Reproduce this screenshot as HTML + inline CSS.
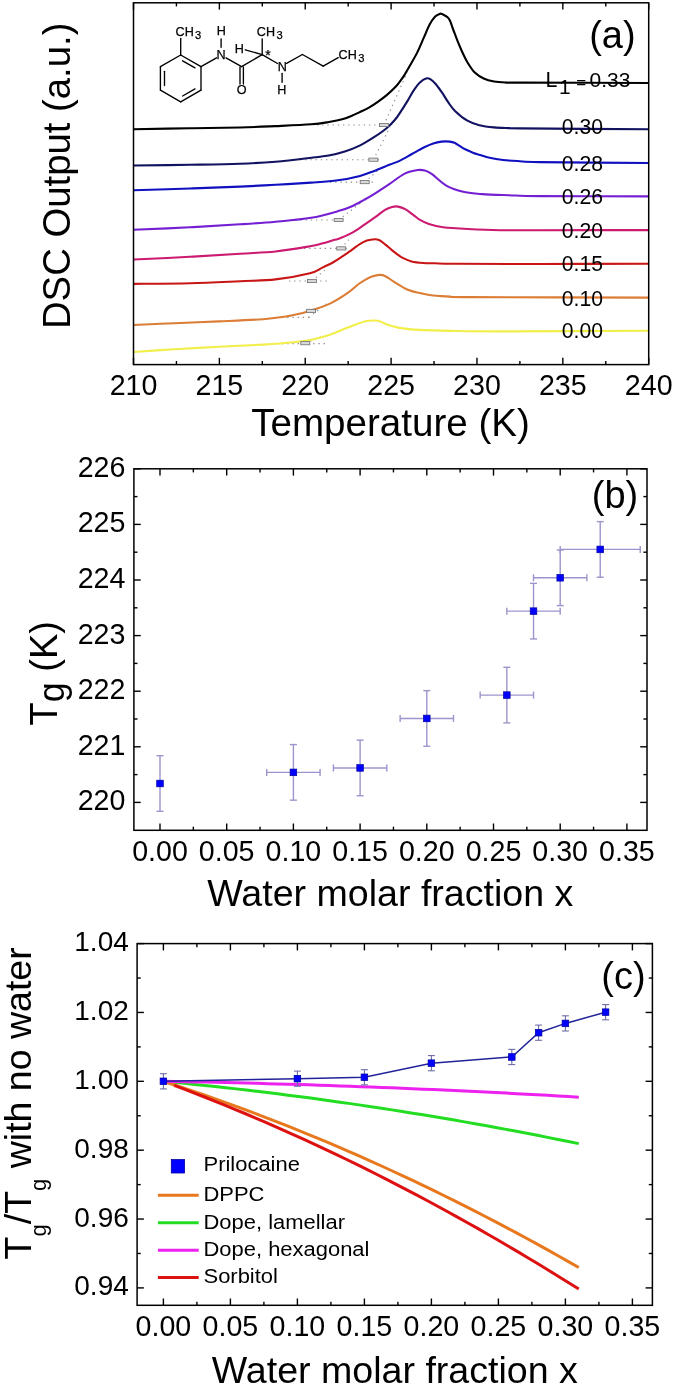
<!DOCTYPE html><html><head><meta charset="utf-8"><title>DSC and Tg figure</title>
<style>html,body{margin:0;padding:0;background:#fff;}svg{display:block;}text{font-family:"Liberation Sans", Arial, Helvetica, sans-serif;fill:#000;}</style></head><body>
<svg width="675" height="1387" viewBox="0 0 675 1387">
<rect x="0" y="0" width="675" height="1387" fill="#fff"/>
<g stroke="#8a8a8a" stroke-width="1.1" stroke-dasharray="1.3,3.9" fill="none">
<line x1="317.0" y1="125.0" x2="389.0" y2="125.0"/>
<line x1="300.0" y1="159.7" x2="379.0" y2="159.7"/>
<line x1="330.0" y1="182.1" x2="376.0" y2="182.1"/>
<line x1="290.0" y1="220.0" x2="344.0" y2="220.0"/>
<line x1="304.0" y1="248.4" x2="350.0" y2="248.4"/>
<line x1="289.0" y1="281.0" x2="328.0" y2="281.0"/>
<line x1="282.0" y1="317.4" x2="309.0" y2="317.4"/>
<line x1="282.0" y1="343.6" x2="326.0" y2="343.6"/>
<line x1="383.9" y1="125.0" x2="407.1" y2="72.4"/>
<line x1="373.4" y1="159.7" x2="390.0" y2="127.0"/>
<line x1="364.7" y1="182.1" x2="379.0" y2="169.5"/>
<line x1="338.6" y1="220.0" x2="362.0" y2="202.0"/>
<line x1="341.2" y1="248.4" x2="351.0" y2="237.0"/>
<line x1="311.9" y1="281.0" x2="326.0" y2="269.0"/>
<line x1="309.0" y1="317.4" x2="326.0" y2="304.0"/>
<line x1="305.3" y1="343.2" x2="322.0" y2="336.5"/>
</g>
<path d="M133.50,129.20 C142.92,129.05 172.25,128.58 190.00,128.30 C207.75,128.02 225.73,127.87 240.00,127.50 C254.27,127.13 263.75,126.63 275.60,126.10 C287.45,125.57 302.22,124.98 311.10,124.30 C319.98,123.62 323.57,122.88 328.90,122.00 C334.23,121.12 338.95,120.18 343.10,119.00 C347.25,117.82 350.98,116.07 353.80,114.90 C356.62,113.73 357.48,113.22 360.00,112.00 C362.52,110.78 365.93,109.30 368.90,107.60 C371.87,105.90 374.83,103.88 377.80,101.80 C380.77,99.72 383.73,97.62 386.70,95.10 C389.67,92.58 393.38,89.00 395.60,86.70 C397.82,84.40 398.53,83.23 400.00,81.30 C401.47,79.37 402.68,77.82 404.40,75.10 C406.12,72.38 408.13,68.83 410.30,65.00 C412.47,61.17 415.17,56.62 417.40,52.10 C419.63,47.58 421.62,42.57 423.70,37.90 C425.78,33.23 427.98,27.65 429.90,24.10 C431.82,20.55 433.57,18.30 435.20,16.60 C436.83,14.90 438.52,14.32 439.70,13.90 C440.88,13.48 440.75,13.28 442.30,14.10 C443.85,14.92 447.22,16.32 449.00,18.80 C450.78,21.28 451.60,25.37 453.00,29.00 C454.40,32.63 455.92,36.90 457.40,40.60 C458.88,44.30 460.23,47.60 461.90,51.20 C463.57,54.80 465.25,58.63 467.40,62.20 C469.55,65.77 472.08,69.88 474.80,72.60 C477.52,75.32 480.48,77.02 483.70,78.50 C486.92,79.98 490.40,80.83 494.10,81.50 C497.80,82.17 501.58,82.32 505.90,82.50 C510.22,82.68 496.20,82.52 520.00,82.60 C543.80,82.68 627.25,82.93 648.70,83.00" fill="none" stroke="#000000" stroke-width="2.1" stroke-linejoin="round"/>
<path d="M133.50,165.50 C142.92,165.38 172.25,165.08 190.00,164.80 C207.75,164.52 225.73,164.32 240.00,163.80 C254.27,163.28 263.75,162.70 275.60,161.70 C287.45,160.70 302.03,158.88 311.10,157.80 C320.17,156.72 324.38,156.25 330.00,155.20 C335.62,154.15 339.87,153.10 344.80,151.50 C349.73,149.90 354.67,148.03 359.60,145.60 C364.53,143.17 369.95,139.75 374.40,136.90 C378.85,134.05 382.87,131.35 386.30,128.50 C389.73,125.65 392.52,122.73 395.00,119.80 C397.48,116.87 399.13,114.02 401.20,110.90 C403.27,107.78 405.32,104.52 407.40,101.10 C409.48,97.68 411.62,93.52 413.70,90.40 C415.78,87.28 417.83,84.40 419.90,82.40 C421.97,80.40 424.32,78.92 426.10,78.40 C427.88,77.88 428.97,78.33 430.60,79.30 C432.23,80.27 433.98,81.97 435.90,84.20 C437.82,86.43 440.03,89.67 442.10,92.70 C444.17,95.73 446.15,99.37 448.30,102.40 C450.45,105.43 451.82,107.85 455.00,110.90 C458.18,113.95 463.35,118.32 467.40,120.70 C471.45,123.08 474.85,124.08 479.30,125.20 C483.75,126.32 489.17,126.92 494.10,127.40 C499.03,127.88 504.58,127.93 508.90,128.10 C513.22,128.27 496.70,128.20 520.00,128.40 C543.30,128.60 627.25,129.15 648.70,129.30" fill="none" stroke="#121260" stroke-width="2.1" stroke-linejoin="round"/>
<path d="M133.50,190.30 C142.92,190.00 172.25,189.12 190.00,188.50 C207.75,187.88 225.73,187.22 240.00,186.60 C254.27,185.98 263.75,185.47 275.60,184.80 C287.45,184.13 300.73,183.35 311.10,182.60 C321.47,181.85 329.65,181.42 337.80,180.30 C345.95,179.18 353.90,177.47 360.00,175.90 C366.10,174.33 369.52,172.75 374.40,170.90 C379.28,169.05 385.03,166.52 389.30,164.80 C393.57,163.08 396.23,162.40 400.00,160.60 C403.77,158.80 407.95,156.18 411.90,154.00 C415.85,151.82 420.15,149.27 423.70,147.50 C427.25,145.73 430.23,144.38 433.20,143.40 C436.17,142.42 438.73,141.90 441.50,141.60 C444.27,141.30 447.63,141.40 449.80,141.60 C451.97,141.80 452.92,142.12 454.50,142.80 C456.08,143.48 457.52,144.62 459.30,145.70 C461.08,146.78 462.83,148.10 465.20,149.30 C467.57,150.50 471.03,151.97 473.50,152.90 C475.97,153.83 477.32,154.08 480.00,154.90 C482.68,155.72 485.77,156.95 489.60,157.80 C493.43,158.65 497.93,159.43 503.00,160.00 C508.07,160.57 513.83,160.85 520.00,161.20 C526.17,161.55 518.55,161.80 540.00,162.10 C561.45,162.40 630.58,162.85 648.70,163.00" fill="none" stroke="#1010c0" stroke-width="2.1" stroke-linejoin="round"/>
<path d="M133.50,229.80 C142.92,229.38 172.25,228.22 190.00,227.30 C207.75,226.38 225.73,225.23 240.00,224.30 C254.27,223.37 263.75,222.78 275.60,221.70 C287.45,220.62 300.37,219.65 311.10,217.80 C321.83,215.95 333.20,212.52 340.00,210.60 C346.80,208.68 347.95,208.05 351.90,206.30 C355.85,204.55 360.15,202.05 363.70,200.10 C367.25,198.15 368.93,197.27 373.20,194.60 C377.47,191.93 384.05,187.60 389.30,184.10 C394.55,180.60 399.95,175.95 404.70,173.60 C409.45,171.25 414.43,170.50 417.80,170.00 C421.17,169.50 422.53,169.90 424.90,170.60 C427.27,171.30 428.37,171.67 432.00,174.20 C435.63,176.73 441.30,182.83 446.70,185.80 C452.10,188.77 458.48,190.62 464.40,192.00 C470.32,193.38 474.78,193.57 482.20,194.10 C489.62,194.63 499.27,194.87 508.90,195.20 C518.53,195.53 516.70,195.90 540.00,196.10 C563.30,196.30 630.58,196.35 648.70,196.40" fill="none" stroke="#7420d2" stroke-width="2.1" stroke-linejoin="round"/>
<path d="M133.50,259.50 C142.92,259.05 172.25,257.77 190.00,256.80 C207.75,255.83 225.73,254.58 240.00,253.70 C254.27,252.82 263.93,252.73 275.60,251.50 C287.27,250.27 302.28,247.62 310.00,246.30 C317.72,244.98 317.95,244.63 321.90,243.60 C325.85,242.57 330.68,240.98 333.70,240.10 C336.72,239.22 336.97,239.50 340.00,238.30 C343.03,237.10 347.95,235.08 351.90,232.90 C355.85,230.72 359.75,227.87 363.70,225.20 C367.65,222.53 372.05,219.47 375.60,216.90 C379.15,214.33 382.25,211.47 385.00,209.80 C387.75,208.13 389.92,207.43 392.10,206.90 C394.28,206.37 395.92,206.22 398.10,206.60 C400.28,206.98 402.63,207.78 405.20,209.20 C407.77,210.62 411.03,213.32 413.50,215.10 C415.97,216.88 417.43,218.42 420.00,219.90 C422.57,221.38 425.05,222.78 428.90,224.00 C432.75,225.22 436.58,226.37 443.10,227.20 C449.62,228.03 458.52,228.50 468.00,229.00 C477.48,229.50 488.00,230.00 500.00,230.20 C512.00,230.40 515.22,230.22 540.00,230.20 C564.78,230.18 630.58,230.12 648.70,230.10" fill="none" stroke="#cc1a70" stroke-width="2.1" stroke-linejoin="round"/>
<path d="M133.50,283.90 C142.92,283.80 172.25,283.75 190.00,283.30 C207.75,282.85 225.73,281.85 240.00,281.20 C254.27,280.55 263.93,280.73 275.60,279.40 C287.27,278.07 302.28,275.12 310.00,273.20 C317.72,271.28 317.95,269.77 321.90,267.90 C325.85,266.03 330.35,263.87 333.70,262.00 C337.05,260.13 339.03,258.68 342.00,256.70 C344.97,254.72 348.53,252.18 351.50,250.10 C354.47,248.02 357.23,245.78 359.80,244.20 C362.37,242.62 364.42,241.43 366.90,240.60 C369.38,239.77 372.60,239.27 374.70,239.20 C376.80,239.13 377.72,239.30 379.50,240.20 C381.28,241.10 383.43,243.03 385.40,244.60 C387.37,246.17 389.32,247.98 391.30,249.60 C393.28,251.22 395.32,252.88 397.30,254.30 C399.28,255.72 400.83,256.92 403.20,258.10 C405.57,259.28 408.15,260.58 411.50,261.40 C414.85,262.22 419.35,262.68 423.30,263.00 C427.25,263.32 429.82,263.17 435.20,263.30 C440.58,263.43 438.13,263.68 455.60,263.80 C473.07,263.92 507.82,264.02 540.00,264.00 C572.18,263.98 630.58,263.75 648.70,263.70" fill="none" stroke="#c81616" stroke-width="2.1" stroke-linejoin="round"/>
<path d="M133.50,325.00 C140.32,324.70 160.17,323.80 174.40,323.20 C188.63,322.60 204.08,322.07 218.90,321.40 C233.72,320.73 251.95,320.03 263.30,319.20 C274.65,318.37 280.55,317.40 287.00,316.40 C293.45,315.40 297.55,314.33 302.00,313.20 C306.45,312.07 309.03,311.20 313.70,309.60 C318.37,308.00 324.32,306.38 330.00,303.60 C335.68,300.82 343.13,296.08 347.80,292.90 C352.47,289.72 355.03,286.72 358.00,284.50 C360.97,282.28 363.27,280.92 365.60,279.60 C367.93,278.28 369.68,277.38 372.00,276.60 C374.32,275.82 377.27,274.97 379.50,274.90 C381.73,274.83 383.03,275.08 385.40,276.20 C387.77,277.32 390.33,279.52 393.70,281.60 C397.07,283.68 401.65,286.87 405.60,288.70 C409.55,290.53 413.45,291.55 417.40,292.60 C421.35,293.65 425.35,294.42 429.30,295.00 C433.25,295.58 437.65,295.83 441.10,296.10 C444.55,296.37 445.18,296.43 450.00,296.60 C454.82,296.77 436.88,296.93 470.00,297.10 C503.12,297.27 618.92,297.52 648.70,297.60" fill="none" stroke="#dc7d36" stroke-width="2.1" stroke-linejoin="round"/>
<path d="M133.50,352.00 C140.32,351.53 160.17,350.07 174.40,349.20 C188.63,348.33 204.08,347.57 218.90,346.80 C233.72,346.03 250.95,345.35 263.30,344.60 C275.65,343.85 284.60,343.20 293.00,342.30 C301.40,341.40 307.53,340.45 313.70,339.20 C319.87,337.95 324.32,336.73 330.00,334.80 C335.68,332.87 341.87,329.85 347.80,327.60 C353.73,325.35 360.57,322.43 365.60,321.30 C370.63,320.17 374.45,320.28 378.00,320.80 C381.55,321.32 383.05,323.18 386.90,324.40 C390.75,325.62 395.77,327.18 401.10,328.10 C406.43,329.02 410.75,329.43 418.90,329.90 C427.05,330.37 436.48,330.65 450.00,330.90 C463.52,331.15 466.88,331.42 500.00,331.40 C533.12,331.38 623.92,330.90 648.70,330.80" fill="none" stroke="#f2ee4a" stroke-width="2.1" stroke-linejoin="round"/>
<rect x="379.4" y="123.4" width="9" height="3.2" fill="#d8d8d8" stroke="#707070" stroke-width="0.8"/>
<rect x="368.9" y="158.1" width="9" height="3.2" fill="#d8d8d8" stroke="#707070" stroke-width="0.8"/>
<rect x="360.2" y="180.5" width="9" height="3.2" fill="#d8d8d8" stroke="#707070" stroke-width="0.8"/>
<rect x="334.1" y="218.4" width="9" height="3.2" fill="#d8d8d8" stroke="#707070" stroke-width="0.8"/>
<rect x="336.7" y="246.8" width="9" height="3.2" fill="#d8d8d8" stroke="#707070" stroke-width="0.8"/>
<rect x="307.4" y="279.4" width="9" height="3.2" fill="#d8d8d8" stroke="#707070" stroke-width="0.8"/>
<rect x="306.6" y="309.3" width="9" height="3.2" fill="#d8d8d8" stroke="#707070" stroke-width="0.8"/>
<rect x="300.8" y="341.6" width="9" height="3.2" fill="#d8d8d8" stroke="#707070" stroke-width="0.8"/>
<rect x="133.50" y="2.80" width="515.20" height="361.80" fill="none" stroke="#000" stroke-width="1.50"/>
<line x1="133.50" y1="364.60" x2="133.50" y2="357.80" stroke="#000" stroke-width="1.40" />
<line x1="133.50" y1="2.80" x2="133.50" y2="9.60" stroke="#000" stroke-width="1.40" />
<text x="133.50" y="395.10" font-size="28.60" text-anchor="middle" >210</text>
<line x1="176.43" y1="364.60" x2="176.43" y2="361.00" stroke="#000" stroke-width="1.40" />
<line x1="176.43" y1="2.80" x2="176.43" y2="6.40" stroke="#000" stroke-width="1.40" />
<line x1="219.37" y1="364.60" x2="219.37" y2="357.80" stroke="#000" stroke-width="1.40" />
<line x1="219.37" y1="2.80" x2="219.37" y2="9.60" stroke="#000" stroke-width="1.40" />
<text x="219.37" y="395.10" font-size="28.60" text-anchor="middle" >215</text>
<line x1="262.30" y1="364.60" x2="262.30" y2="361.00" stroke="#000" stroke-width="1.40" />
<line x1="262.30" y1="2.80" x2="262.30" y2="6.40" stroke="#000" stroke-width="1.40" />
<line x1="305.23" y1="364.60" x2="305.23" y2="357.80" stroke="#000" stroke-width="1.40" />
<line x1="305.23" y1="2.80" x2="305.23" y2="9.60" stroke="#000" stroke-width="1.40" />
<text x="305.23" y="395.10" font-size="28.60" text-anchor="middle" >220</text>
<line x1="348.17" y1="364.60" x2="348.17" y2="361.00" stroke="#000" stroke-width="1.40" />
<line x1="348.17" y1="2.80" x2="348.17" y2="6.40" stroke="#000" stroke-width="1.40" />
<line x1="391.10" y1="364.60" x2="391.10" y2="357.80" stroke="#000" stroke-width="1.40" />
<line x1="391.10" y1="2.80" x2="391.10" y2="9.60" stroke="#000" stroke-width="1.40" />
<text x="391.10" y="395.10" font-size="28.60" text-anchor="middle" >225</text>
<line x1="434.03" y1="364.60" x2="434.03" y2="361.00" stroke="#000" stroke-width="1.40" />
<line x1="434.03" y1="2.80" x2="434.03" y2="6.40" stroke="#000" stroke-width="1.40" />
<line x1="476.97" y1="364.60" x2="476.97" y2="357.80" stroke="#000" stroke-width="1.40" />
<line x1="476.97" y1="2.80" x2="476.97" y2="9.60" stroke="#000" stroke-width="1.40" />
<text x="476.97" y="395.10" font-size="28.60" text-anchor="middle" >230</text>
<line x1="519.90" y1="364.60" x2="519.90" y2="361.00" stroke="#000" stroke-width="1.40" />
<line x1="519.90" y1="2.80" x2="519.90" y2="6.40" stroke="#000" stroke-width="1.40" />
<line x1="562.83" y1="364.60" x2="562.83" y2="357.80" stroke="#000" stroke-width="1.40" />
<line x1="562.83" y1="2.80" x2="562.83" y2="9.60" stroke="#000" stroke-width="1.40" />
<text x="562.83" y="395.10" font-size="28.60" text-anchor="middle" >235</text>
<line x1="605.77" y1="364.60" x2="605.77" y2="361.00" stroke="#000" stroke-width="1.40" />
<line x1="605.77" y1="2.80" x2="605.77" y2="6.40" stroke="#000" stroke-width="1.40" />
<line x1="648.70" y1="364.60" x2="648.70" y2="357.80" stroke="#000" stroke-width="1.40" />
<line x1="648.70" y1="2.80" x2="648.70" y2="9.60" stroke="#000" stroke-width="1.40" />
<text x="648.70" y="395.10" font-size="28.60" text-anchor="middle" >240</text>
<text x="390.50" y="435.70" font-size="38.60" text-anchor="middle" >Temperature (K)</text>
<text transform="translate(70,175.8) rotate(-90)" x="0" y="0" font-size="38.3" text-anchor="middle">DSC Output (a.u.)</text>
<text x="612.40" y="47.50" font-size="38.00" text-anchor="middle" >(a)</text>
<text x="561.8" y="134.20" font-size="22" textLength="41.2" lengthAdjust="spacingAndGlyphs">0.30</text>
<text x="561.8" y="170.90" font-size="22" textLength="41.2" lengthAdjust="spacingAndGlyphs">0.28</text>
<text x="561.8" y="203.60" font-size="22" textLength="41.2" lengthAdjust="spacingAndGlyphs">0.26</text>
<text x="561.8" y="238.00" font-size="22" textLength="41.2" lengthAdjust="spacingAndGlyphs">0.20</text>
<text x="561.8" y="270.70" font-size="22" textLength="41.2" lengthAdjust="spacingAndGlyphs">0.15</text>
<text x="561.8" y="305.80" font-size="22" textLength="41.2" lengthAdjust="spacingAndGlyphs">0.10</text>
<text x="561.8" y="337.80" font-size="22" textLength="41.2" lengthAdjust="spacingAndGlyphs">0.00</text>
<text x="545.6" y="87.2" font-size="21.4">L</text>
<text x="559.0" y="94.0" font-size="21">1</text>
<text x="576.3" y="87.6" font-size="17">=</text>
<text x="589.6" y="86.9" font-size="20.5" textLength="40.8" lengthAdjust="spacingAndGlyphs">0.33</text>
<g stroke="#000" stroke-width="1.35" stroke-linecap="round" fill="none"><line x1="180.7" y1="55.0" x2="201.0" y2="66.7"/><line x1="201.0" y1="66.7" x2="201.0" y2="90.1"/><line x1="201.0" y1="90.1" x2="180.7" y2="101.8"/><line x1="180.7" y1="101.8" x2="160.4" y2="90.1"/><line x1="160.4" y1="90.1" x2="160.4" y2="66.7"/><line x1="160.4" y1="66.7" x2="180.7" y2="55.0"/><line x1="182.6" y1="60.8" x2="195.0" y2="67.9"/><line x1="195.0" y1="88.9" x2="182.6" y2="96.0"/><line x1="164.5" y1="85.5" x2="164.5" y2="71.3"/><line x1="180.7" y1="55.0" x2="180.7" y2="38.3"/><line x1="201.0" y1="66.7" x2="216.5" y2="57.8"/><line x1="221.1" y1="47.2" x2="221.1" y2="38.8"/><line x1="226.0" y1="57.8" x2="241.6" y2="66.6"/><line x1="240.0" y1="67.0" x2="240.0" y2="84.0"/><line x1="243.4" y1="67.0" x2="243.4" y2="84.0"/><line x1="241.6" y1="66.6" x2="262.2" y2="54.6"/><line x1="245.3" y1="49.8" x2="262.2" y2="54.6"/><line x1="262.2" y1="54.6" x2="262.2" y2="38.8"/><line x1="262.2" y1="54.6" x2="277.5" y2="63.5"/><line x1="282.1" y1="73.3" x2="282.1" y2="82.3"/><line x1="286.6" y1="63.4" x2="302.4" y2="54.5"/><line x1="302.4" y1="54.5" x2="323.2" y2="66.1"/><line x1="323.2" y1="66.1" x2="338.2" y2="57.6"/></g>
<text x="175.6" y="35.6" font-size="12.6" text-anchor="start" stroke="#000" stroke-width="0.25">CH</text>
<text x="195.0" y="39.0" font-size="11.2" text-anchor="start" stroke="#000" stroke-width="0.25">3</text>
<text x="221.3" y="35.4" font-size="12.6" text-anchor="middle" stroke="#000" stroke-width="0.25">H</text>
<text x="221.1" y="58.8" font-size="12.6" text-anchor="middle" stroke="#000" stroke-width="0.25">N</text>
<text x="241.6" y="94.1" font-size="12.6" text-anchor="middle" stroke="#000" stroke-width="0.25">O</text>
<text x="239.2" y="53.4" font-size="12.6" text-anchor="middle" stroke="#000" stroke-width="0.25">H</text>
<text x="265.3" y="59.6" font-size="14.0" text-anchor="start" stroke="#000" stroke-width="0.25">*</text>
<text x="256.8" y="35.7" font-size="12.6" text-anchor="start" stroke="#000" stroke-width="0.25">CH</text>
<text x="276.4" y="39.0" font-size="11.2" text-anchor="start" stroke="#000" stroke-width="0.25">3</text>
<text x="282.3" y="71.0" font-size="12.6" text-anchor="middle" stroke="#000" stroke-width="0.25">N</text>
<text x="281.9" y="93.8" font-size="12.6" text-anchor="middle" stroke="#000" stroke-width="0.25">H</text>
<text x="338.6" y="59.0" font-size="12.6" text-anchor="start" stroke="#000" stroke-width="0.25">CH</text>
<text x="358.2" y="62.4" font-size="11.2" text-anchor="start" stroke="#000" stroke-width="0.25">3</text>
<rect x="133.90" y="468.80" width="513.10" height="361.50" fill="none" stroke="#000" stroke-width="1.50"/>
<line x1="160.00" y1="830.30" x2="160.00" y2="823.50" stroke="#000" stroke-width="1.40" />
<line x1="160.00" y1="468.80" x2="160.00" y2="475.60" stroke="#000" stroke-width="1.40" />
<text x="160.00" y="860.80" font-size="28.60" text-anchor="middle" >0.00</text>
<line x1="193.35" y1="830.30" x2="193.35" y2="826.70" stroke="#000" stroke-width="1.40" />
<line x1="193.35" y1="468.80" x2="193.35" y2="472.40" stroke="#000" stroke-width="1.40" />
<line x1="226.70" y1="830.30" x2="226.70" y2="823.50" stroke="#000" stroke-width="1.40" />
<line x1="226.70" y1="468.80" x2="226.70" y2="475.60" stroke="#000" stroke-width="1.40" />
<text x="226.70" y="860.80" font-size="28.60" text-anchor="middle" >0.05</text>
<line x1="260.05" y1="830.30" x2="260.05" y2="826.70" stroke="#000" stroke-width="1.40" />
<line x1="260.05" y1="468.80" x2="260.05" y2="472.40" stroke="#000" stroke-width="1.40" />
<line x1="293.40" y1="830.30" x2="293.40" y2="823.50" stroke="#000" stroke-width="1.40" />
<line x1="293.40" y1="468.80" x2="293.40" y2="475.60" stroke="#000" stroke-width="1.40" />
<text x="293.40" y="860.80" font-size="28.60" text-anchor="middle" >0.10</text>
<line x1="326.75" y1="830.30" x2="326.75" y2="826.70" stroke="#000" stroke-width="1.40" />
<line x1="326.75" y1="468.80" x2="326.75" y2="472.40" stroke="#000" stroke-width="1.40" />
<line x1="360.10" y1="830.30" x2="360.10" y2="823.50" stroke="#000" stroke-width="1.40" />
<line x1="360.10" y1="468.80" x2="360.10" y2="475.60" stroke="#000" stroke-width="1.40" />
<text x="360.10" y="860.80" font-size="28.60" text-anchor="middle" >0.15</text>
<line x1="393.45" y1="830.30" x2="393.45" y2="826.70" stroke="#000" stroke-width="1.40" />
<line x1="393.45" y1="468.80" x2="393.45" y2="472.40" stroke="#000" stroke-width="1.40" />
<line x1="426.80" y1="830.30" x2="426.80" y2="823.50" stroke="#000" stroke-width="1.40" />
<line x1="426.80" y1="468.80" x2="426.80" y2="475.60" stroke="#000" stroke-width="1.40" />
<text x="426.80" y="860.80" font-size="28.60" text-anchor="middle" >0.20</text>
<line x1="460.15" y1="830.30" x2="460.15" y2="826.70" stroke="#000" stroke-width="1.40" />
<line x1="460.15" y1="468.80" x2="460.15" y2="472.40" stroke="#000" stroke-width="1.40" />
<line x1="493.50" y1="830.30" x2="493.50" y2="823.50" stroke="#000" stroke-width="1.40" />
<line x1="493.50" y1="468.80" x2="493.50" y2="475.60" stroke="#000" stroke-width="1.40" />
<text x="493.50" y="860.80" font-size="28.60" text-anchor="middle" >0.25</text>
<line x1="526.85" y1="830.30" x2="526.85" y2="826.70" stroke="#000" stroke-width="1.40" />
<line x1="526.85" y1="468.80" x2="526.85" y2="472.40" stroke="#000" stroke-width="1.40" />
<line x1="560.20" y1="830.30" x2="560.20" y2="823.50" stroke="#000" stroke-width="1.40" />
<line x1="560.20" y1="468.80" x2="560.20" y2="475.60" stroke="#000" stroke-width="1.40" />
<text x="560.20" y="860.80" font-size="28.60" text-anchor="middle" >0.30</text>
<line x1="593.55" y1="830.30" x2="593.55" y2="826.70" stroke="#000" stroke-width="1.40" />
<line x1="593.55" y1="468.80" x2="593.55" y2="472.40" stroke="#000" stroke-width="1.40" />
<line x1="626.90" y1="830.30" x2="626.90" y2="823.50" stroke="#000" stroke-width="1.40" />
<line x1="626.90" y1="468.80" x2="626.90" y2="475.60" stroke="#000" stroke-width="1.40" />
<text x="626.90" y="860.80" font-size="28.60" text-anchor="middle" >0.35</text>
<line x1="133.90" y1="802.40" x2="140.70" y2="802.40" stroke="#000" stroke-width="1.40" />
<line x1="647.00" y1="802.40" x2="640.20" y2="802.40" stroke="#000" stroke-width="1.40" />
<text x="125.40" y="810.40" font-size="28.60" text-anchor="end" >220</text>
<line x1="133.90" y1="774.60" x2="137.50" y2="774.60" stroke="#000" stroke-width="1.40" />
<line x1="647.00" y1="774.60" x2="643.40" y2="774.60" stroke="#000" stroke-width="1.40" />
<line x1="133.90" y1="746.80" x2="140.70" y2="746.80" stroke="#000" stroke-width="1.40" />
<line x1="647.00" y1="746.80" x2="640.20" y2="746.80" stroke="#000" stroke-width="1.40" />
<text x="125.40" y="754.80" font-size="28.60" text-anchor="end" >221</text>
<line x1="133.90" y1="719.00" x2="137.50" y2="719.00" stroke="#000" stroke-width="1.40" />
<line x1="647.00" y1="719.00" x2="643.40" y2="719.00" stroke="#000" stroke-width="1.40" />
<line x1="133.90" y1="691.20" x2="140.70" y2="691.20" stroke="#000" stroke-width="1.40" />
<line x1="647.00" y1="691.20" x2="640.20" y2="691.20" stroke="#000" stroke-width="1.40" />
<text x="125.40" y="699.20" font-size="28.60" text-anchor="end" >222</text>
<line x1="133.90" y1="663.40" x2="137.50" y2="663.40" stroke="#000" stroke-width="1.40" />
<line x1="647.00" y1="663.40" x2="643.40" y2="663.40" stroke="#000" stroke-width="1.40" />
<line x1="133.90" y1="635.60" x2="140.70" y2="635.60" stroke="#000" stroke-width="1.40" />
<line x1="647.00" y1="635.60" x2="640.20" y2="635.60" stroke="#000" stroke-width="1.40" />
<text x="125.40" y="643.60" font-size="28.60" text-anchor="end" >223</text>
<line x1="133.90" y1="607.80" x2="137.50" y2="607.80" stroke="#000" stroke-width="1.40" />
<line x1="647.00" y1="607.80" x2="643.40" y2="607.80" stroke="#000" stroke-width="1.40" />
<line x1="133.90" y1="580.00" x2="140.70" y2="580.00" stroke="#000" stroke-width="1.40" />
<line x1="647.00" y1="580.00" x2="640.20" y2="580.00" stroke="#000" stroke-width="1.40" />
<text x="125.40" y="588.00" font-size="28.60" text-anchor="end" >224</text>
<line x1="133.90" y1="552.20" x2="137.50" y2="552.20" stroke="#000" stroke-width="1.40" />
<line x1="647.00" y1="552.20" x2="643.40" y2="552.20" stroke="#000" stroke-width="1.40" />
<line x1="133.90" y1="524.40" x2="140.70" y2="524.40" stroke="#000" stroke-width="1.40" />
<line x1="647.00" y1="524.40" x2="640.20" y2="524.40" stroke="#000" stroke-width="1.40" />
<text x="125.40" y="532.40" font-size="28.60" text-anchor="end" >225</text>
<line x1="133.90" y1="496.60" x2="137.50" y2="496.60" stroke="#000" stroke-width="1.40" />
<line x1="647.00" y1="496.60" x2="643.40" y2="496.60" stroke="#000" stroke-width="1.40" />
<line x1="133.90" y1="468.80" x2="140.70" y2="468.80" stroke="#000" stroke-width="1.40" />
<line x1="647.00" y1="468.80" x2="640.20" y2="468.80" stroke="#000" stroke-width="1.40" />
<text x="125.40" y="476.80" font-size="28.60" text-anchor="end" >226</text>
<text x="390.30" y="905.50" font-size="37.60" text-anchor="middle" >Water molar fraction x</text>
<text transform="translate(57.1,673.3) rotate(-90)" x="0" y="0" font-size="38" text-anchor="middle">T<tspan font-size="36" dy="7">g</tspan><tspan dy="-7"> (K)</tspan></text>
<text x="615.00" y="508.00" font-size="38.00" text-anchor="middle" >(b)</text>
<line x1="160.00" y1="755.70" x2="160.00" y2="811.30" stroke="#9c94cc" stroke-width="1.40" />
<line x1="156.50" y1="755.70" x2="163.50" y2="755.70" stroke="#9c94cc" stroke-width="1.40" />
<line x1="156.50" y1="811.30" x2="163.50" y2="811.30" stroke="#9c94cc" stroke-width="1.40" />
<line x1="293.40" y1="744.58" x2="293.40" y2="800.18" stroke="#9c94cc" stroke-width="1.40" />
<line x1="289.90" y1="744.58" x2="296.90" y2="744.58" stroke="#9c94cc" stroke-width="1.40" />
<line x1="289.90" y1="800.18" x2="296.90" y2="800.18" stroke="#9c94cc" stroke-width="1.40" />
<line x1="266.72" y1="772.38" x2="320.08" y2="772.38" stroke="#9c94cc" stroke-width="1.40" />
<line x1="266.72" y1="768.88" x2="266.72" y2="775.88" stroke="#9c94cc" stroke-width="1.40" />
<line x1="320.08" y1="768.88" x2="320.08" y2="775.88" stroke="#9c94cc" stroke-width="1.40" />
<line x1="360.10" y1="740.13" x2="360.10" y2="795.73" stroke="#9c94cc" stroke-width="1.40" />
<line x1="356.60" y1="740.13" x2="363.60" y2="740.13" stroke="#9c94cc" stroke-width="1.40" />
<line x1="356.60" y1="795.73" x2="363.60" y2="795.73" stroke="#9c94cc" stroke-width="1.40" />
<line x1="333.42" y1="767.93" x2="386.78" y2="767.93" stroke="#9c94cc" stroke-width="1.40" />
<line x1="333.42" y1="764.43" x2="333.42" y2="771.43" stroke="#9c94cc" stroke-width="1.40" />
<line x1="386.78" y1="764.43" x2="386.78" y2="771.43" stroke="#9c94cc" stroke-width="1.40" />
<line x1="426.80" y1="690.64" x2="426.80" y2="746.24" stroke="#9c94cc" stroke-width="1.40" />
<line x1="423.30" y1="690.64" x2="430.30" y2="690.64" stroke="#9c94cc" stroke-width="1.40" />
<line x1="423.30" y1="746.24" x2="430.30" y2="746.24" stroke="#9c94cc" stroke-width="1.40" />
<line x1="400.12" y1="718.44" x2="453.48" y2="718.44" stroke="#9c94cc" stroke-width="1.40" />
<line x1="400.12" y1="714.94" x2="400.12" y2="721.94" stroke="#9c94cc" stroke-width="1.40" />
<line x1="453.48" y1="714.94" x2="453.48" y2="721.94" stroke="#9c94cc" stroke-width="1.40" />
<line x1="506.84" y1="667.29" x2="506.84" y2="722.89" stroke="#9c94cc" stroke-width="1.40" />
<line x1="503.34" y1="667.29" x2="510.34" y2="667.29" stroke="#9c94cc" stroke-width="1.40" />
<line x1="503.34" y1="722.89" x2="510.34" y2="722.89" stroke="#9c94cc" stroke-width="1.40" />
<line x1="480.16" y1="695.09" x2="533.52" y2="695.09" stroke="#9c94cc" stroke-width="1.40" />
<line x1="480.16" y1="691.59" x2="480.16" y2="698.59" stroke="#9c94cc" stroke-width="1.40" />
<line x1="533.52" y1="691.59" x2="533.52" y2="698.59" stroke="#9c94cc" stroke-width="1.40" />
<line x1="533.52" y1="583.34" x2="533.52" y2="638.94" stroke="#9c94cc" stroke-width="1.40" />
<line x1="530.02" y1="583.34" x2="537.02" y2="583.34" stroke="#9c94cc" stroke-width="1.40" />
<line x1="530.02" y1="638.94" x2="537.02" y2="638.94" stroke="#9c94cc" stroke-width="1.40" />
<line x1="506.84" y1="611.14" x2="560.20" y2="611.14" stroke="#9c94cc" stroke-width="1.40" />
<line x1="506.84" y1="607.64" x2="506.84" y2="614.64" stroke="#9c94cc" stroke-width="1.40" />
<line x1="560.20" y1="607.64" x2="560.20" y2="614.64" stroke="#9c94cc" stroke-width="1.40" />
<line x1="560.20" y1="549.98" x2="560.20" y2="605.58" stroke="#9c94cc" stroke-width="1.40" />
<line x1="556.70" y1="549.98" x2="563.70" y2="549.98" stroke="#9c94cc" stroke-width="1.40" />
<line x1="556.70" y1="605.58" x2="563.70" y2="605.58" stroke="#9c94cc" stroke-width="1.40" />
<line x1="533.52" y1="577.78" x2="586.88" y2="577.78" stroke="#9c94cc" stroke-width="1.40" />
<line x1="533.52" y1="574.28" x2="533.52" y2="581.28" stroke="#9c94cc" stroke-width="1.40" />
<line x1="586.88" y1="574.28" x2="586.88" y2="581.28" stroke="#9c94cc" stroke-width="1.40" />
<line x1="600.22" y1="521.62" x2="600.22" y2="577.22" stroke="#9c94cc" stroke-width="1.40" />
<line x1="596.72" y1="521.62" x2="603.72" y2="521.62" stroke="#9c94cc" stroke-width="1.40" />
<line x1="596.72" y1="577.22" x2="603.72" y2="577.22" stroke="#9c94cc" stroke-width="1.40" />
<line x1="560.20" y1="549.42" x2="640.24" y2="549.42" stroke="#9c94cc" stroke-width="1.40" />
<line x1="560.20" y1="545.92" x2="560.20" y2="552.92" stroke="#9c94cc" stroke-width="1.40" />
<line x1="640.24" y1="545.92" x2="640.24" y2="552.92" stroke="#9c94cc" stroke-width="1.40" />
<rect x="156.70" y="780.20" width="6.6" height="6.6" fill="#0000ff" stroke="#0000a0" stroke-width="0.7"/>
<rect x="290.10" y="769.08" width="6.6" height="6.6" fill="#0000ff" stroke="#0000a0" stroke-width="0.7"/>
<rect x="356.80" y="764.63" width="6.6" height="6.6" fill="#0000ff" stroke="#0000a0" stroke-width="0.7"/>
<rect x="423.50" y="715.14" width="6.6" height="6.6" fill="#0000ff" stroke="#0000a0" stroke-width="0.7"/>
<rect x="503.54" y="691.79" width="6.6" height="6.6" fill="#0000ff" stroke="#0000a0" stroke-width="0.7"/>
<rect x="530.22" y="607.84" width="6.6" height="6.6" fill="#0000ff" stroke="#0000a0" stroke-width="0.7"/>
<rect x="556.90" y="574.48" width="6.6" height="6.6" fill="#0000ff" stroke="#0000a0" stroke-width="0.7"/>
<rect x="596.92" y="546.12" width="6.6" height="6.6" fill="#0000ff" stroke="#0000a0" stroke-width="0.7"/>
<rect x="137.10" y="943.60" width="515.30" height="361.70" fill="none" stroke="#000" stroke-width="1.50"/>
<line x1="163.40" y1="1305.30" x2="163.40" y2="1298.50" stroke="#000" stroke-width="1.40" />
<line x1="163.40" y1="943.60" x2="163.40" y2="950.40" stroke="#000" stroke-width="1.40" />
<text x="163.40" y="1335.60" font-size="28.60" text-anchor="middle" >0.00</text>
<line x1="196.90" y1="1305.30" x2="196.90" y2="1301.70" stroke="#000" stroke-width="1.40" />
<line x1="196.90" y1="943.60" x2="196.90" y2="947.20" stroke="#000" stroke-width="1.40" />
<line x1="230.40" y1="1305.30" x2="230.40" y2="1298.50" stroke="#000" stroke-width="1.40" />
<line x1="230.40" y1="943.60" x2="230.40" y2="950.40" stroke="#000" stroke-width="1.40" />
<text x="230.40" y="1335.60" font-size="28.60" text-anchor="middle" >0.05</text>
<line x1="263.90" y1="1305.30" x2="263.90" y2="1301.70" stroke="#000" stroke-width="1.40" />
<line x1="263.90" y1="943.60" x2="263.90" y2="947.20" stroke="#000" stroke-width="1.40" />
<line x1="297.40" y1="1305.30" x2="297.40" y2="1298.50" stroke="#000" stroke-width="1.40" />
<line x1="297.40" y1="943.60" x2="297.40" y2="950.40" stroke="#000" stroke-width="1.40" />
<text x="297.40" y="1335.60" font-size="28.60" text-anchor="middle" >0.10</text>
<line x1="330.90" y1="1305.30" x2="330.90" y2="1301.70" stroke="#000" stroke-width="1.40" />
<line x1="330.90" y1="943.60" x2="330.90" y2="947.20" stroke="#000" stroke-width="1.40" />
<line x1="364.40" y1="1305.30" x2="364.40" y2="1298.50" stroke="#000" stroke-width="1.40" />
<line x1="364.40" y1="943.60" x2="364.40" y2="950.40" stroke="#000" stroke-width="1.40" />
<text x="364.40" y="1335.60" font-size="28.60" text-anchor="middle" >0.15</text>
<line x1="397.90" y1="1305.30" x2="397.90" y2="1301.70" stroke="#000" stroke-width="1.40" />
<line x1="397.90" y1="943.60" x2="397.90" y2="947.20" stroke="#000" stroke-width="1.40" />
<line x1="431.40" y1="1305.30" x2="431.40" y2="1298.50" stroke="#000" stroke-width="1.40" />
<line x1="431.40" y1="943.60" x2="431.40" y2="950.40" stroke="#000" stroke-width="1.40" />
<text x="431.40" y="1335.60" font-size="28.60" text-anchor="middle" >0.20</text>
<line x1="464.90" y1="1305.30" x2="464.90" y2="1301.70" stroke="#000" stroke-width="1.40" />
<line x1="464.90" y1="943.60" x2="464.90" y2="947.20" stroke="#000" stroke-width="1.40" />
<line x1="498.40" y1="1305.30" x2="498.40" y2="1298.50" stroke="#000" stroke-width="1.40" />
<line x1="498.40" y1="943.60" x2="498.40" y2="950.40" stroke="#000" stroke-width="1.40" />
<text x="498.40" y="1335.60" font-size="28.60" text-anchor="middle" >0.25</text>
<line x1="531.90" y1="1305.30" x2="531.90" y2="1301.70" stroke="#000" stroke-width="1.40" />
<line x1="531.90" y1="943.60" x2="531.90" y2="947.20" stroke="#000" stroke-width="1.40" />
<line x1="565.40" y1="1305.30" x2="565.40" y2="1298.50" stroke="#000" stroke-width="1.40" />
<line x1="565.40" y1="943.60" x2="565.40" y2="950.40" stroke="#000" stroke-width="1.40" />
<text x="565.40" y="1335.60" font-size="28.60" text-anchor="middle" >0.30</text>
<line x1="598.90" y1="1305.30" x2="598.90" y2="1301.70" stroke="#000" stroke-width="1.40" />
<line x1="598.90" y1="943.60" x2="598.90" y2="947.20" stroke="#000" stroke-width="1.40" />
<line x1="632.40" y1="1305.30" x2="632.40" y2="1298.50" stroke="#000" stroke-width="1.40" />
<line x1="632.40" y1="943.60" x2="632.40" y2="950.40" stroke="#000" stroke-width="1.40" />
<text x="632.40" y="1335.60" font-size="28.60" text-anchor="middle" >0.35</text>
<line x1="137.10" y1="1287.90" x2="143.90" y2="1287.90" stroke="#000" stroke-width="1.40" />
<line x1="652.40" y1="1287.90" x2="645.60" y2="1287.90" stroke="#000" stroke-width="1.40" />
<text x="128.80" y="1295.40" font-size="28.00" text-anchor="end" >0.94</text>
<line x1="137.10" y1="1253.47" x2="140.70" y2="1253.47" stroke="#000" stroke-width="1.40" />
<line x1="652.40" y1="1253.47" x2="648.80" y2="1253.47" stroke="#000" stroke-width="1.40" />
<line x1="137.10" y1="1219.04" x2="143.90" y2="1219.04" stroke="#000" stroke-width="1.40" />
<line x1="652.40" y1="1219.04" x2="645.60" y2="1219.04" stroke="#000" stroke-width="1.40" />
<text x="128.80" y="1226.54" font-size="28.00" text-anchor="end" >0.96</text>
<line x1="137.10" y1="1184.61" x2="140.70" y2="1184.61" stroke="#000" stroke-width="1.40" />
<line x1="652.40" y1="1184.61" x2="648.80" y2="1184.61" stroke="#000" stroke-width="1.40" />
<line x1="137.10" y1="1150.18" x2="143.90" y2="1150.18" stroke="#000" stroke-width="1.40" />
<line x1="652.40" y1="1150.18" x2="645.60" y2="1150.18" stroke="#000" stroke-width="1.40" />
<text x="128.80" y="1157.68" font-size="28.00" text-anchor="end" >0.98</text>
<line x1="137.10" y1="1115.75" x2="140.70" y2="1115.75" stroke="#000" stroke-width="1.40" />
<line x1="652.40" y1="1115.75" x2="648.80" y2="1115.75" stroke="#000" stroke-width="1.40" />
<line x1="137.10" y1="1081.32" x2="143.90" y2="1081.32" stroke="#000" stroke-width="1.40" />
<line x1="652.40" y1="1081.32" x2="645.60" y2="1081.32" stroke="#000" stroke-width="1.40" />
<text x="128.80" y="1088.82" font-size="28.00" text-anchor="end" >1.00</text>
<line x1="137.10" y1="1046.89" x2="140.70" y2="1046.89" stroke="#000" stroke-width="1.40" />
<line x1="652.40" y1="1046.89" x2="648.80" y2="1046.89" stroke="#000" stroke-width="1.40" />
<line x1="137.10" y1="1012.46" x2="143.90" y2="1012.46" stroke="#000" stroke-width="1.40" />
<line x1="652.40" y1="1012.46" x2="645.60" y2="1012.46" stroke="#000" stroke-width="1.40" />
<text x="128.80" y="1019.96" font-size="28.00" text-anchor="end" >1.02</text>
<line x1="137.10" y1="978.03" x2="140.70" y2="978.03" stroke="#000" stroke-width="1.40" />
<line x1="652.40" y1="978.03" x2="648.80" y2="978.03" stroke="#000" stroke-width="1.40" />
<line x1="137.10" y1="943.60" x2="143.90" y2="943.60" stroke="#000" stroke-width="1.40" />
<line x1="652.40" y1="943.60" x2="645.60" y2="943.60" stroke="#000" stroke-width="1.40" />
<text x="128.80" y="951.10" font-size="28.00" text-anchor="end" >1.04</text>
<text x="394.80" y="1382.70" font-size="37.60" text-anchor="middle" >Water molar fraction x</text>
<text transform="translate(31.1,1103.4) rotate(-90)" x="0" y="0" font-size="37.5" text-anchor="middle">T<tspan font-size="22" dy="14.8">g</tspan><tspan dy="-14.8">/T</tspan><tspan font-size="22" dy="14.8">g</tspan><tspan dy="-14.8"> with no water</tspan></text>
<text x="623.40" y="988.50" font-size="38.00" text-anchor="middle" >(c)</text>
<path d="M163.40,1081.32 L173.78,1082.31 L184.17,1083.34 L194.56,1084.39 L204.94,1085.47 L215.32,1086.58 L225.71,1087.71 L236.09,1088.88 L246.48,1090.08 L256.87,1091.30 L267.25,1092.56 L277.63,1093.84 L288.02,1095.15 L298.40,1096.49 L308.79,1097.86 L319.18,1099.26 L329.56,1100.69 L339.94,1102.14 L350.33,1103.63 L360.72,1105.14 L371.10,1106.69 L381.49,1108.26 L391.87,1109.86 L402.25,1111.49 L412.64,1113.15 L423.02,1114.84 L433.41,1116.56 L443.79,1118.30 L454.18,1120.08 L464.57,1121.88 L474.95,1123.72 L485.34,1125.58 L495.72,1127.47 L506.11,1129.39 L516.49,1131.34 L526.88,1133.32 L537.26,1135.32 L547.64,1137.36 L558.03,1139.42 L568.41,1141.52 L578.80,1143.64" fill="none" stroke="#22dd22" stroke-width="3"/>
<path d="M163.40,1081.32 L173.78,1084.70 L184.17,1088.14 L194.56,1091.65 L204.94,1095.22 L215.32,1098.86 L225.71,1102.56 L236.09,1106.33 L246.48,1110.17 L256.87,1114.07 L267.25,1118.03 L277.63,1122.07 L288.02,1126.16 L298.40,1130.33 L308.79,1134.56 L319.18,1138.85 L329.56,1143.21 L339.94,1147.64 L350.33,1152.13 L360.72,1156.68 L371.10,1161.31 L381.49,1166.00 L391.87,1170.75 L402.25,1175.57 L412.64,1180.45 L423.02,1185.40 L433.41,1190.42 L443.79,1195.50 L454.18,1200.65 L464.57,1205.86 L474.95,1211.14 L485.34,1216.48 L495.72,1221.89 L506.11,1227.37 L516.49,1232.91 L526.88,1238.52 L537.26,1244.19 L547.64,1249.93 L558.03,1255.73 L568.41,1261.60 L578.80,1267.53" fill="none" stroke="#e8781e" stroke-width="3"/>
<path d="M174.12,1085.31 L184.24,1089.14 L194.35,1093.04 L204.47,1097.00 L214.59,1101.03 L224.70,1105.12 L234.82,1109.28 L244.94,1113.50 L255.06,1117.78 L265.17,1122.13 L275.29,1126.55 L285.41,1131.03 L295.52,1135.57 L305.64,1140.18 L315.76,1144.85 L325.88,1149.59 L335.99,1154.40 L346.11,1159.26 L356.23,1164.20 L366.34,1169.19 L376.46,1174.25 L386.58,1179.38 L396.69,1184.57 L406.81,1189.83 L416.93,1195.15 L427.04,1200.53 L437.16,1205.98 L447.28,1211.50 L457.40,1217.08 L467.51,1222.72 L477.63,1228.43 L487.75,1234.20 L497.86,1240.04 L507.98,1245.94 L518.10,1251.91 L528.21,1257.94 L538.33,1264.04 L548.45,1270.20 L558.57,1276.43 L568.68,1282.72 L578.80,1289.07" fill="none" stroke="#dd1111" stroke-width="3"/>
<path d="M163.40,1081.32 L173.78,1081.50 L184.17,1081.69 L194.56,1081.90 L204.94,1082.11 L215.32,1082.34 L225.71,1082.57 L236.09,1082.82 L246.48,1083.08 L256.87,1083.35 L267.25,1083.63 L277.63,1083.92 L288.02,1084.22 L298.40,1084.54 L308.79,1084.86 L319.18,1085.20 L329.56,1085.54 L339.94,1085.90 L350.33,1086.27 L360.72,1086.65 L371.10,1087.04 L381.49,1087.44 L391.87,1087.85 L402.25,1088.28 L412.64,1088.71 L423.02,1089.16 L433.41,1089.61 L443.79,1090.08 L454.18,1090.56 L464.57,1091.05 L474.95,1091.55 L485.34,1092.06 L495.72,1092.58 L506.11,1093.12 L516.49,1093.66 L526.88,1094.21 L537.26,1094.78 L547.64,1095.36 L558.03,1095.95 L568.41,1096.55 L578.80,1097.16" fill="none" stroke="#ee22ee" stroke-width="3"/>
<polyline points="163.40,1081.32 297.40,1078.70 364.40,1077.29 431.40,1063.18 511.80,1056.98 538.60,1032.70 565.40,1023.41 605.60,1012.18" fill="none" stroke="#22229a" stroke-width="1.5"/>
<line x1="163.40" y1="1073.72" x2="163.40" y2="1088.92" stroke="#6e6ea8" stroke-width="1.10" />
<line x1="159.90" y1="1073.72" x2="166.90" y2="1073.72" stroke="#6e6ea8" stroke-width="1.10" />
<line x1="159.90" y1="1088.92" x2="166.90" y2="1088.92" stroke="#6e6ea8" stroke-width="1.10" />
<line x1="297.40" y1="1071.10" x2="297.40" y2="1086.30" stroke="#6e6ea8" stroke-width="1.10" />
<line x1="293.90" y1="1071.10" x2="300.90" y2="1071.10" stroke="#6e6ea8" stroke-width="1.10" />
<line x1="293.90" y1="1086.30" x2="300.90" y2="1086.30" stroke="#6e6ea8" stroke-width="1.10" />
<line x1="364.40" y1="1069.69" x2="364.40" y2="1084.89" stroke="#6e6ea8" stroke-width="1.10" />
<line x1="360.90" y1="1069.69" x2="367.90" y2="1069.69" stroke="#6e6ea8" stroke-width="1.10" />
<line x1="360.90" y1="1084.89" x2="367.90" y2="1084.89" stroke="#6e6ea8" stroke-width="1.10" />
<line x1="431.40" y1="1055.58" x2="431.40" y2="1070.78" stroke="#6e6ea8" stroke-width="1.10" />
<line x1="427.90" y1="1055.58" x2="434.90" y2="1055.58" stroke="#6e6ea8" stroke-width="1.10" />
<line x1="427.90" y1="1070.78" x2="434.90" y2="1070.78" stroke="#6e6ea8" stroke-width="1.10" />
<line x1="511.80" y1="1049.38" x2="511.80" y2="1064.58" stroke="#6e6ea8" stroke-width="1.10" />
<line x1="508.30" y1="1049.38" x2="515.30" y2="1049.38" stroke="#6e6ea8" stroke-width="1.10" />
<line x1="508.30" y1="1064.58" x2="515.30" y2="1064.58" stroke="#6e6ea8" stroke-width="1.10" />
<line x1="538.60" y1="1025.10" x2="538.60" y2="1040.30" stroke="#6e6ea8" stroke-width="1.10" />
<line x1="535.10" y1="1025.10" x2="542.10" y2="1025.10" stroke="#6e6ea8" stroke-width="1.10" />
<line x1="535.10" y1="1040.30" x2="542.10" y2="1040.30" stroke="#6e6ea8" stroke-width="1.10" />
<line x1="565.40" y1="1015.81" x2="565.40" y2="1031.01" stroke="#6e6ea8" stroke-width="1.10" />
<line x1="561.90" y1="1015.81" x2="568.90" y2="1015.81" stroke="#6e6ea8" stroke-width="1.10" />
<line x1="561.90" y1="1031.01" x2="568.90" y2="1031.01" stroke="#6e6ea8" stroke-width="1.10" />
<line x1="605.60" y1="1004.58" x2="605.60" y2="1019.78" stroke="#6e6ea8" stroke-width="1.10" />
<line x1="602.10" y1="1004.58" x2="609.10" y2="1004.58" stroke="#6e6ea8" stroke-width="1.10" />
<line x1="602.10" y1="1019.78" x2="609.10" y2="1019.78" stroke="#6e6ea8" stroke-width="1.10" />
<rect x="160.10" y="1078.02" width="6.6" height="6.6" fill="#0000ff" stroke="#0000a0" stroke-width="0.7"/>
<rect x="294.10" y="1075.40" width="6.6" height="6.6" fill="#0000ff" stroke="#0000a0" stroke-width="0.7"/>
<rect x="361.10" y="1073.99" width="6.6" height="6.6" fill="#0000ff" stroke="#0000a0" stroke-width="0.7"/>
<rect x="428.10" y="1059.88" width="6.6" height="6.6" fill="#0000ff" stroke="#0000a0" stroke-width="0.7"/>
<rect x="508.50" y="1053.68" width="6.6" height="6.6" fill="#0000ff" stroke="#0000a0" stroke-width="0.7"/>
<rect x="535.30" y="1029.40" width="6.6" height="6.6" fill="#0000ff" stroke="#0000a0" stroke-width="0.7"/>
<rect x="562.10" y="1020.11" width="6.6" height="6.6" fill="#0000ff" stroke="#0000a0" stroke-width="0.7"/>
<rect x="602.30" y="1008.88" width="6.6" height="6.6" fill="#0000ff" stroke="#0000a0" stroke-width="0.7"/>
<rect x="171.3" y="1159.6" width="13.2" height="13.4" fill="#0000ff" stroke="#0000a0" stroke-width="0.8"/>
<text transform="translate(203.5,1171.2) scale(1.046,1)" font-size="21">Prilocaine</text>
<line x1="157.90" y1="1195.20" x2="198.70" y2="1195.20" stroke="#e8781e" stroke-width="3.00" />
<text transform="translate(203.5,1201.00) scale(1.046,1)" font-size="21">DPPC</text>
<line x1="157.90" y1="1222.80" x2="198.70" y2="1222.80" stroke="#22dd22" stroke-width="3.00" />
<text transform="translate(203.5,1228.60) scale(1.046,1)" font-size="21">Dope, lamellar</text>
<line x1="157.90" y1="1250.20" x2="198.70" y2="1250.20" stroke="#ee22ee" stroke-width="3.00" />
<text transform="translate(203.5,1256.00) scale(1.046,1)" font-size="21">Dope, hexagonal</text>
<line x1="157.90" y1="1277.50" x2="198.70" y2="1277.50" stroke="#dd1111" stroke-width="3.00" />
<text transform="translate(203.5,1283.30) scale(1.046,1)" font-size="21">Sorbitol</text>
</svg></body></html>
